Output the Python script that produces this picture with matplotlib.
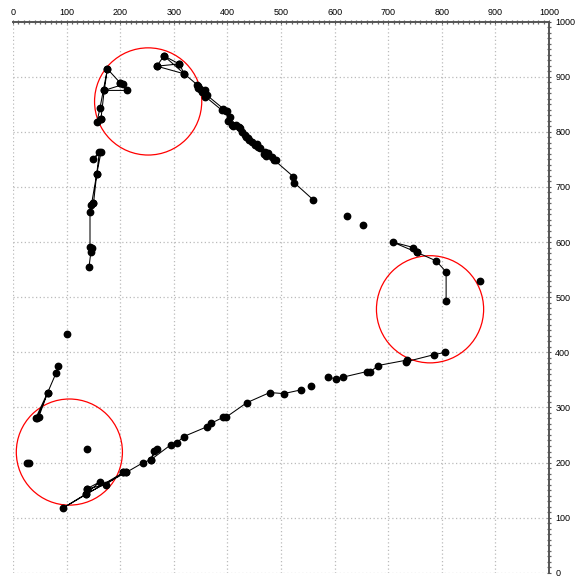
import numpy as np
import matplotlib
matplotlib.use('Agg')
import matplotlib.pyplot as plt
from matplotlib.patches import Ellipse

plt.rcParams['font.family'] = ['Liberation Sans', 'DejaVu Sans']

nan = np.nan

# upper-left vertical chain and small triangle
track_a_x = [141.6, 145, 148, 143.5, 143.5, 150, 146, 156, 161, 149, 164, 156, 150,
             nan, 164, 156.5, 162, 176, 170, 164,
             nan, 176, 199.5, 212, 170, 206, 199.5]
track_a_y = [554, 581, 590, 591.5, 655, 670, 667, 723, 764, 750, 763, 723, 670,
             nan, 824, 818, 842.5, 914, 875, 824,
             nan, 914, 889, 875, 875, 886, 889]

# cluster near top and the long diagonal
track_b_x = [281.5, 268, 310, 281.5, 319.6, 268, nan,
             310, 319.6, 343.7, 348.7, 358, 345.5, 352, 359, 389, 397, 401.5, 400,
             411, 408, 423, 422, 434.5, 441, 432.6, 451, 457, 454.5, 470, 471, 468,
             484, 487, 523, 524.6, 559.5, nan,
             345, 362, 392, 404, 415, 428, 438, 446, 460, 475, 490]
track_b_y = [937.6, 919, 923, 937.6, 905, 919, nan,
             923, 905, 885, 877, 876, 883, 872, 863.6, 839.5, 838, 820, 837.6,
             810, 812, 806, 809, 791, 785, 794, 776, 773, 778, 764, 756, 760,
             753.6, 749, 718.5, 707.6, 677, nan,
             880, 866, 842, 826, 813, 800, 789, 782, 770, 761, 748]

# right hand group
track_c_x = [754, 708, 747, 754, 789, 808, 808]
track_c_y = [581, 600, 590, 581, 566, 546, 493]

# lower arc
track_d_x = [806.5, 785, 734, 735.6, 681, 666, 660, 616, 602, 588, nan,
             538, 505, 479, 436, 397, 392, 369, 362, 318, 306, 294, 257, 268, 263,
             257, 243, 211, 206, 173, 137, 162, 136, 94, 206, 211, 136, 137]
track_d_y = [400, 395.6, 383, 386, 376, 364, 365, 355, 351, 356, nan,
             332, 325, 327, 308.5, 282, 282, 271, 265, 247, 236, 232, 205, 224, 221,
             205, 200, 182, 182, 160, 152, 165, 143, 118, 182, 182, 143, 152]

# lower-left chain
track_e_x = [84, 80, 64.5, 48, 42, 64.5, 45]
track_e_y = [376, 362, 327, 283, 280, 327, 281]

# single points
lone_x = [623, 653, 872, 555, 101, 137, 26, 30]
lone_y = [647, 631, 529, 339, 433, 224.5, 199, 199]

# red circles (centre, radius in x units)
circle_x = [252, 778, 105]
circle_y = [855, 478, 219]
circle_r = [100, 100, 99]

fig = plt.figure(figsize=(5.77, 5.78), dpi=100)
ax = fig.add_axes([0.0227, 0.009, 0.9288, 0.9538])

for tx, ty in [(track_a_x, track_a_y), (track_b_x, track_b_y), (track_c_x, track_c_y),
               (track_d_x, track_d_y), (track_e_x, track_e_y)]:
    ax.plot(tx, ty, 'k-', lw=0.75, marker='o', ms=4.6, zorder=3)
ax.plot(lone_x, lone_y, 'ko', ms=4.6, zorder=3)

# circles drawn round on screen
bb = ax.get_position()
ratio = (bb.width * 577) / (bb.height * 578)
for cx, cy, r in zip(circle_x, circle_y, circle_r):
    ax.add_patch(Ellipse((cx, cy), 2 * r, 2 * r * ratio, fill=False,
                         edgecolor='red', lw=0.9, zorder=2))

ax.set_xlim(0, 1000)
ax.set_ylim(0, 1000)
ax.set_xticks(np.arange(0, 1001, 100))
ax.set_yticks(np.arange(0, 1001, 100))
ax.set_xticks(np.arange(0, 1001, 10), minor=True)
ax.set_yticks(np.arange(0, 1001, 10), minor=True)

ax.xaxis.tick_top()
ax.yaxis.tick_right()
for side in ['left', 'bottom']:
    ax.spines[side].set_visible(False)
for side in ['top', 'right']:
    ax.spines[side].set_color('#555555')
    ax.spines[side].set_linewidth(1.4)

ax.tick_params(which='major', length=3, width=0.8, color='#555555',
               direction='inout', labelsize=6.5, pad=1.5)
ax.tick_params(which='minor', length=2.2, width=0.9, color='#666666', direction='inout')
ax.tick_params(axis='y', pad=3)

ax.grid(True, which='major', color='#bbbbbb', linestyle=(0, (1, 2)), lw=0.9)
ax.set_axisbelow(True)

plt.savefig('out.png', dpi=100)
